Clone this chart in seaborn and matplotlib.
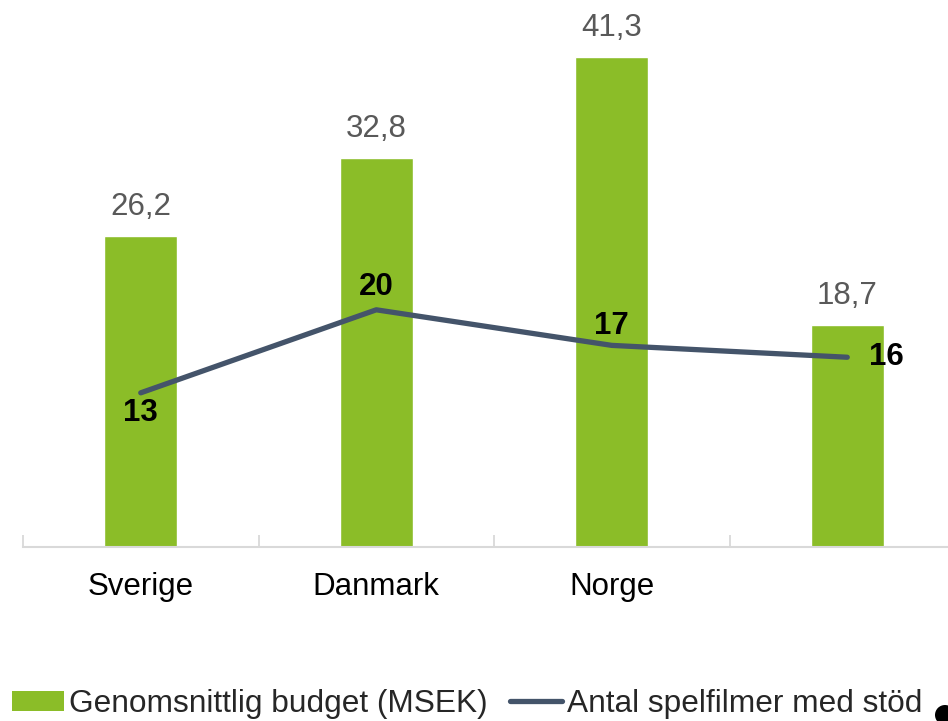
import numpy as np
import matplotlib
matplotlib.use("Agg")
import matplotlib.pyplot as plt
from matplotlib.patches import Patch, Ellipse
from matplotlib.lines import Line2D
import seaborn as sns

# Nordic feature films: average budget (MSEK) and number of supported films
countries = ["Sverige", "Danmark", "Norge", ""]
budget = [26.2, 32.8, 41.3, 18.7]
films = [13, 20, 17, 16]
legend_labels = ["Genomsnittlig budget (MSEK)", "Antal spelfilmer med stöd"]

BAR_COLOR = "#8BBD28"
LINE_COLOR = "#44546A"
VALUE_GRAY = "#595959"
AXIS_GRAY = "#D9D9D9"
FS = 22.5

sns.set_style("white")
plt.rcParams["font.family"] = ["Liberation Sans", "DejaVu Sans"]

W, H = 948, 721
fig = plt.figure(figsize=(W / 100, H / 100), dpi=100)
ax = fig.add_axes([23 / W, (H - 547) / H, 942 / W, 533.7 / H])

sns.barplot(x=countries, y=budget, color=BAR_COLOR, saturation=1,
            width=0.31, ax=ax)
sns.lineplot(x=np.arange(len(countries)), y=films, color=LINE_COLOR,
             linewidth=3.8, solid_capstyle="round", sort=False, ax=ax)

ax.set_xlim(-0.5, len(countries) - 0.5)
ax.set_ylim(0, 45)

# category labels on centres, tick marks on category boundaries
ax.set_xticks(np.arange(len(countries)))
ax.set_xticklabels(countries, fontsize=FS, color="black")
ax.tick_params(axis="x", which="major", length=0, pad=18)
ax.set_xticks(np.arange(len(countries) + 1) - 0.5, minor=True)
ax.tick_params(axis="x", which="minor", bottom=True, length=9, width=1.3,
               direction="in", color=AXIS_GRAY)
ax.set_yticks([])
ax.set_xlabel("")
ax.set_ylabel("")
for side in ["left", "right", "top"]:
    ax.spines[side].set_visible(False)
ax.spines["bottom"].set_color(AXIS_GRAY)
ax.spines["bottom"].set_linewidth(1.5)

# value labels above bars
for i, v in enumerate(budget):
    ax.annotate(f"{v:.1f}".replace(".", ","), (i, v), xytext=(0, 29),
                textcoords="offset pixels", ha="center", va="center",
                fontsize=FS, color=VALUE_GRAY)

# value labels for the line
line_offsets = [(0, -20), (0, 23), (0, 19), (39, 0)]
for i, (v, off) in enumerate(zip(films, line_offsets)):
    ax.annotate(str(v), (i, v), xytext=off, textcoords="offset pixels",
                ha="center", va="center", fontsize=FS, fontweight="bold",
                color="black")

handles = [Patch(facecolor=BAR_COLOR, edgecolor="none"),
           Line2D([], [], color=LINE_COLOR, linewidth=3.8,
                  solid_capstyle="round")]
fig.legend(handles, legend_labels, loc="center left",
           bbox_to_anchor=(12 / W, (H - 704) / H), ncol=2, frameon=False,
           fontsize=22.8, handlelength=1.65, handleheight=0.6,
           handletextpad=0.15, columnspacing=0.7, borderpad=0,
           borderaxespad=0)

fig.patches.append(Ellipse((945 / W, (H - 715) / H), 20 / W, 20 / H,
                           transform=fig.transFigure, facecolor="black",
                           edgecolor="none"))

fig.savefig("out.png", dpi=100)
